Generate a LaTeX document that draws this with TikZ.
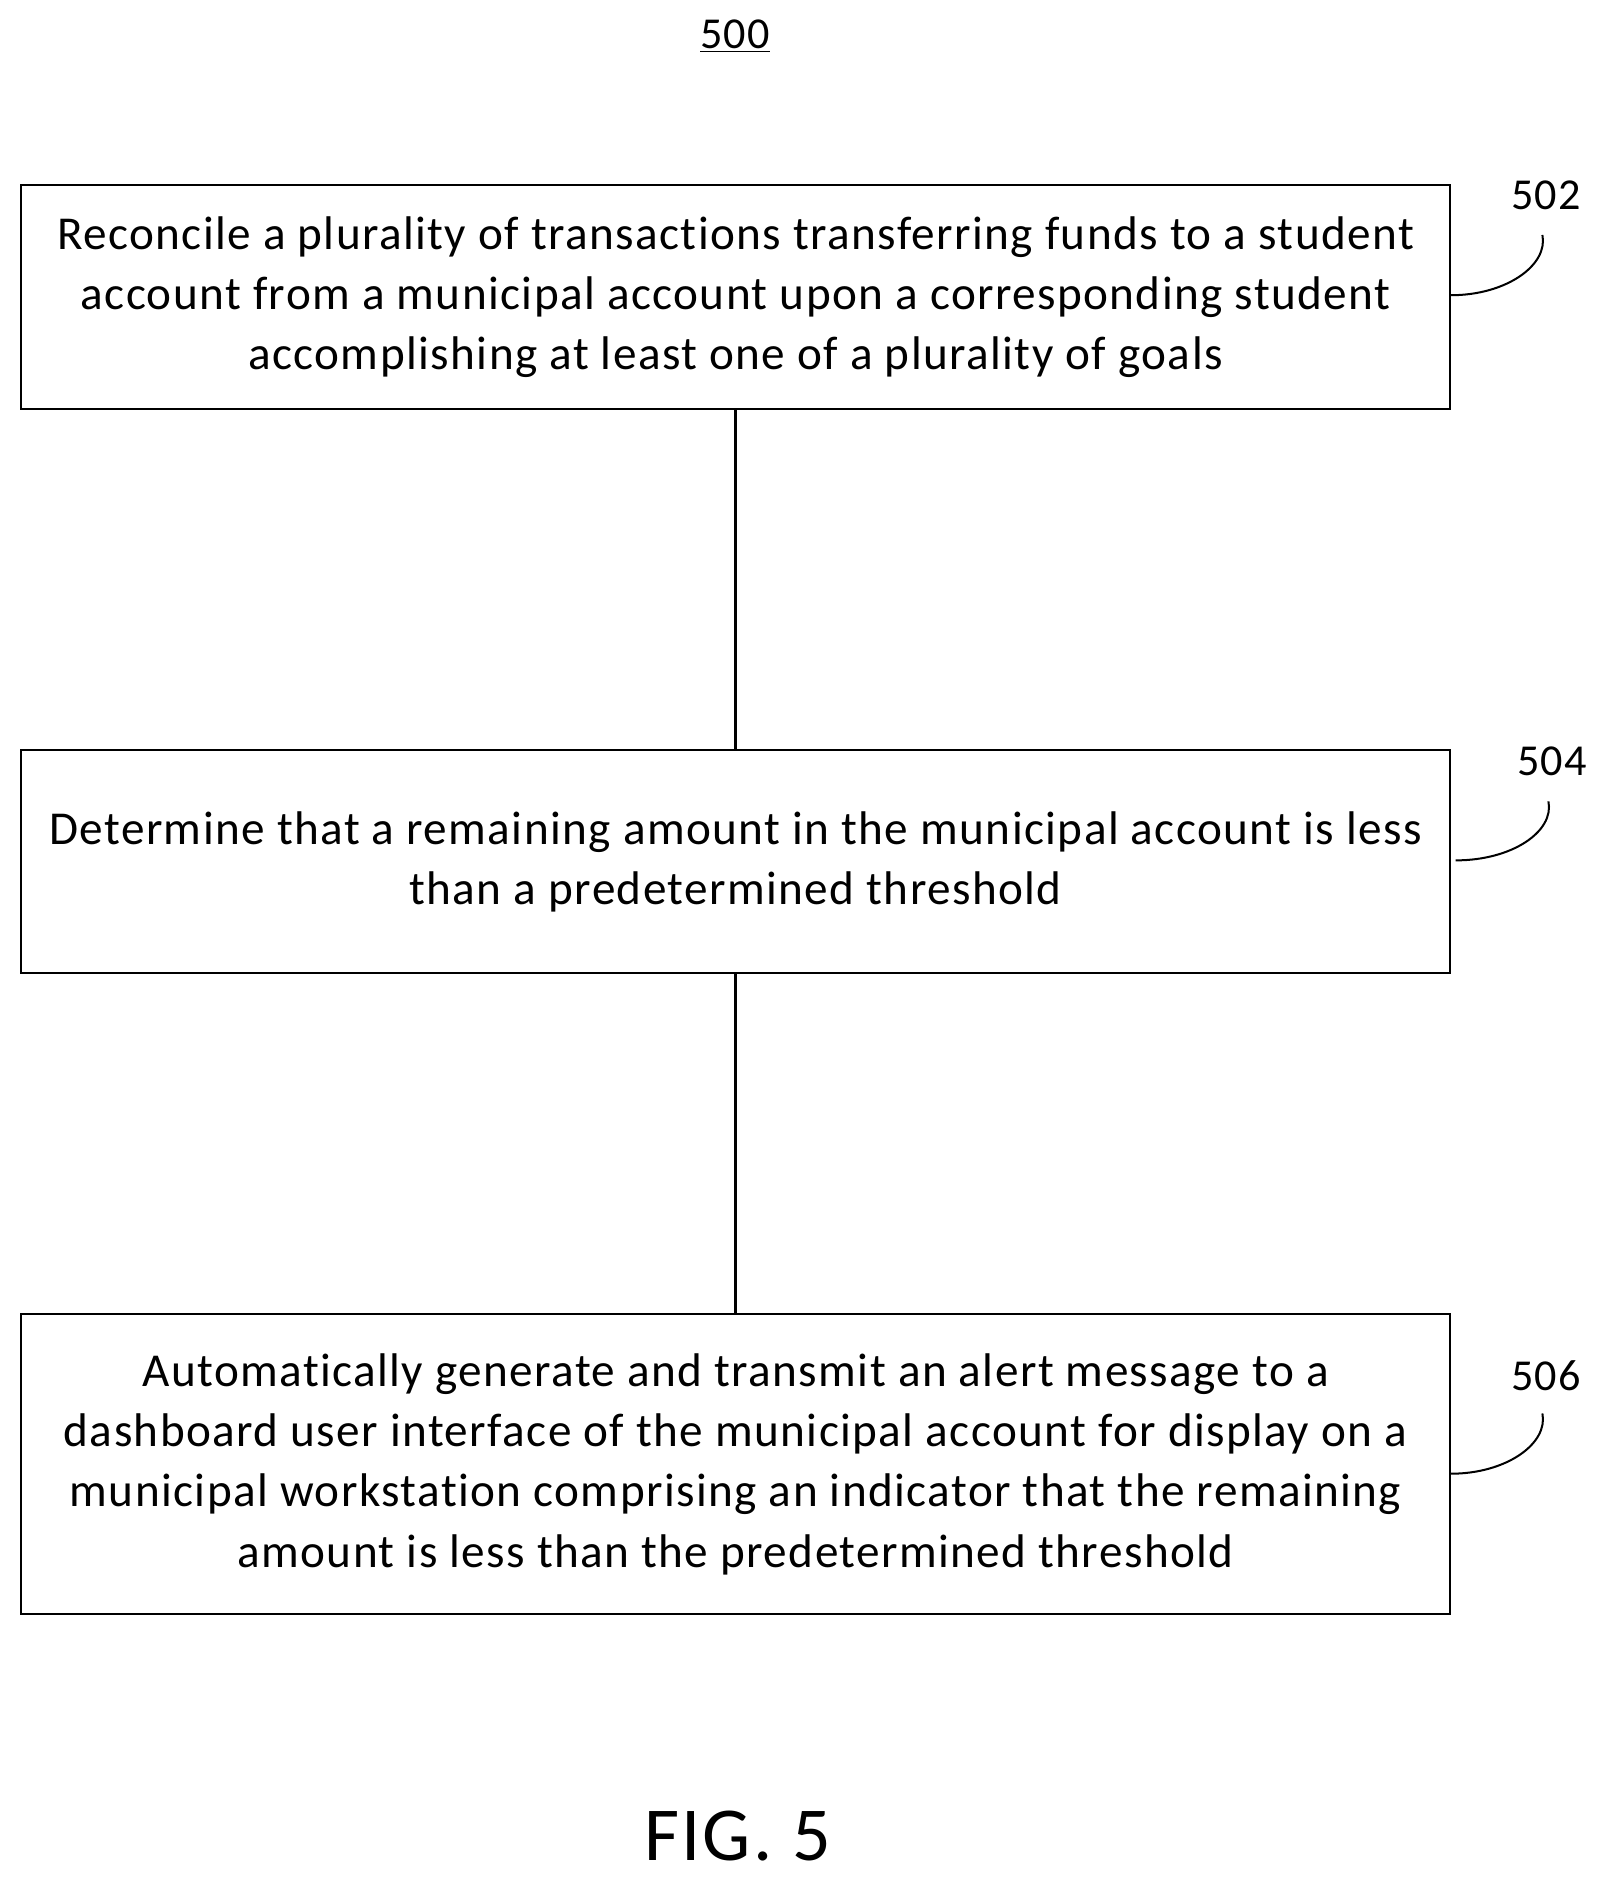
\documentclass[tikz,border=0pt]{standalone}
\usepackage{fontspec}
\setmainfont{Carlito}[Ligatures={NoCommon},LetterSpace=3]
\begin{document}
\begin{tikzpicture}[x=0.6pt,y=-0.6pt,
  box/.style={draw,line width=0.8pt,minimum width=1186*0.6pt,align=center,font=\fontsize{23.5}{30}\selectfont,inner sep=0pt},
  lbl/.style={font=\fontsize{22}{26}\selectfont},
  conn/.style={line width=1.8pt}]
\useasboundingbox (0,0) rectangle (1330,1561);
\node[lbl] (t) at (610,30) {\underline{500}};
\node[box,minimum height=186*0.6pt] (b1) at (610.5,246.5) {Reconcile a plurality of transactions transferring funds to a student\\account from a municipal account upon a corresponding student\\accomplishing at least one of a plurality of goals};
\node[box,minimum height=185*0.6pt] (b2) at (610.5,715) {Determine that a remaining amount in the municipal account is less\\than a predetermined threshold};
\node[box,minimum height=249*0.6pt] (b3) at (610.5,1215) {Automatically generate and transmit an alert message to a\\dashboard user interface of the municipal account for display on a\\municipal workstation comprising an indicator that the remaining\\amount is less than the predetermined threshold};
\draw[conn] (b1) -- (b2);
\draw[conn] (b2) -- (b3);
\node[lbl] (l1) at (1283,162) {502};
\node[lbl] (l2) at (1288,632) {504};
\node[lbl] (l3) at (1283,1142) {506};
\coordinate (c1) at (1204,245); \coordinate (c2) at (1208,714); \coordinate (c3) at (1204,1223);
\draw[line width=1pt] (c1) .. controls (1250,245) and (1285,220) .. (1280,195);
\draw[line width=1pt] (c2) .. controls (1255,714) and (1290,690) .. (1285,665);
\draw[line width=1pt] (c3) .. controls (1250,1223) and (1285,1198) .. (1280,1173);
\node[font=\fontsize{38}{42}\selectfont] (fig) at (612,1524) {FIG. 5};
\end{tikzpicture}
\end{document}
